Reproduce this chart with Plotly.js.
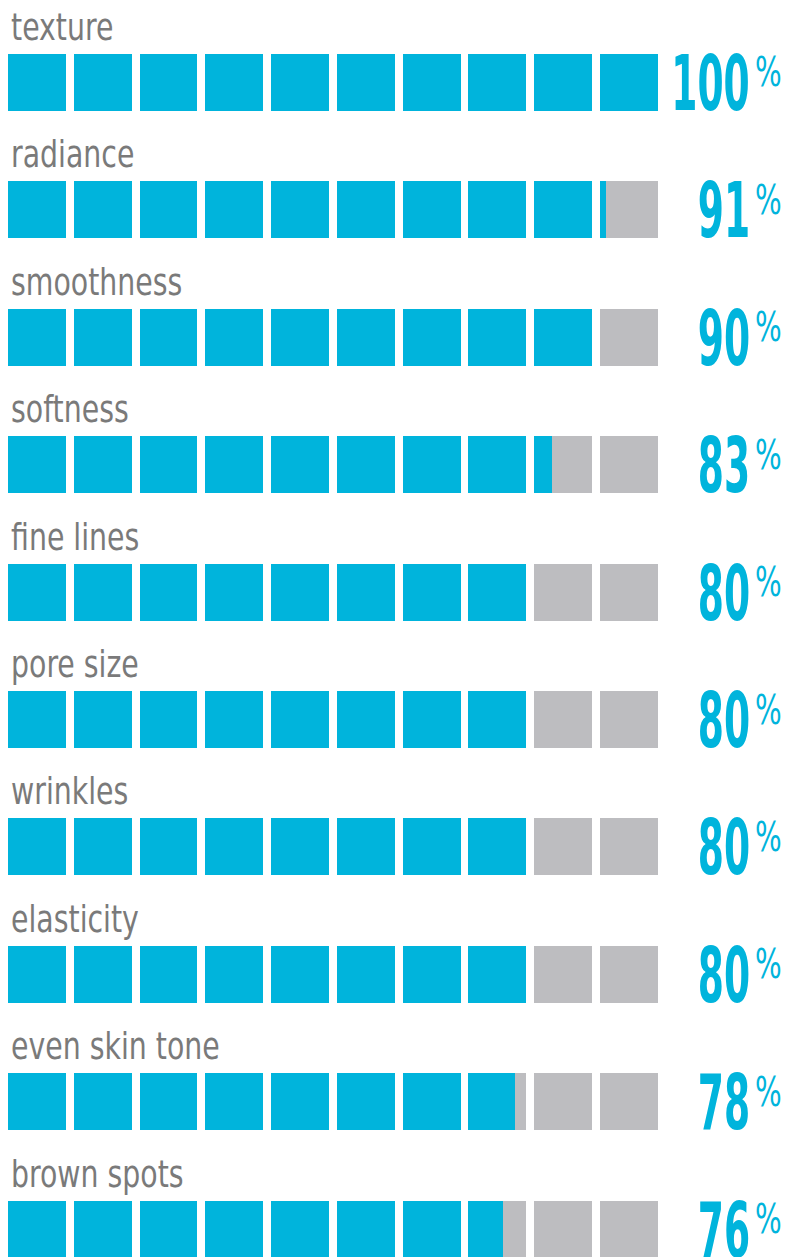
<!DOCTYPE html>
<html>
<head>
<meta charset="utf-8">
<script src="https://cdn.plot.ly/plotly-3.0.1.min.js"></script>
<style>
  html, body { margin: 0; padding: 0; background: #ffffff; }
  #chart { width: 793px; height: 1257px; }
</style>
</head>
<body>
<div id="chart"></div>
<script>
// ---- data ----
const categories = ['texture', 'radiance', 'smoothness', 'softness', 'fine lines',
                    'pore size', 'wrinkles', 'elasticity', 'even skin tone', 'brown spots'];
const values = [100, 91, 90, 83, 80, 80, 80, 80, 78, 76];
const percentLabels = values.map(v => String(v));
const squaresPerRow = 10;

// ---- styles ----
const BLUE = '#00b4dc';
const GRAY = '#bdbdc0';
const LABEL_GRAY = '#7a7a7a';
const SQ = 0.88;          // square width as fraction of one unit step
const BAR_H = 0.447;      // bar height in row units
const FONT = 'DejaVu Sans Condensed, DejaVu Sans, sans-serif';

const grayX = [], grayY = [], grayBase = [];
const blueX = [], blueY = [], blueBase = [];
categories.forEach((c, r) => {
  const filled = values[r] / 100 * squaresPerRow;
  for (let i = 0; i < squaresPerRow; i++) {
    grayX.push(SQ); grayY.push(r); grayBase.push(i);
    const frac = Math.max(0, Math.min(1, filled - i));
    if (frac > 0) { blueX.push(SQ * frac); blueY.push(r); blueBase.push(i); }
  }
});

const traces = [
  { type: 'bar', orientation: 'h', x: grayX, y: grayY, base: grayBase, width: BAR_H,
    marker: { color: GRAY, line: { width: 0 } }, hoverinfo: 'skip', showlegend: false },
  { type: 'bar', orientation: 'h', x: blueX, y: blueY, base: blueBase, width: BAR_H,
    marker: { color: BLUE, line: { width: 0 } }, hoverinfo: 'skip', showlegend: false }
];

const annotations = [];
const squeeze = [];   // [scaleX, origin] per annotation, same order
categories.forEach((c, r) => {
  annotations.push({
    xref: 'x', yref: 'y', x: 0, y: r - BAR_H / 2, xanchor: 'left', yanchor: 'bottom',
    text: c, showarrow: false, xshift: 1, yshift: 3,
    font: { family: FONT, size: 38, color: LABEL_GRAY, weight: 300 }
  });
  squeeze.push([0.83, 'left']);
  annotations.push({
    xref: 'x', yref: 'y', x: 11.31, y: r, xanchor: 'right', yanchor: 'bottom',
    text: percentLabels[r], showarrow: false, yshift: -47.5,
    font: { family: FONT, size: 76, color: BLUE, weight: 700 }
  });
  squeeze.push([0.55, 'right']);
  annotations.push({
    xref: 'x', yref: 'y', x: 11.33, y: r, xanchor: 'left', yanchor: 'top',
    text: '%', showarrow: false, yshift: 35,
    font: { family: FONT, size: 40, color: BLUE }
  });
  squeeze.push([0.78, 'left']);
});

const layout = {
  width: 793, height: 1257,
  margin: { l: 8, r: 0, t: 0, b: 0, pad: 0 },
  paper_bgcolor: '#ffffff', plot_bgcolor: '#ffffff',
  barmode: 'overlay', bargap: 0,
  xaxis: { range: [0, 11.934], visible: false, fixedrange: true },
  yaxis: { range: [9.218, -0.6467], visible: false, fixedrange: true },
  annotations: annotations,
  showlegend: false
};

function condense(gd) {
  gd.querySelectorAll('g.annotation').forEach(g => {
    const idx = +g.getAttribute('data-index');
    const t = g.querySelector('text.annotation-text');
    if (!t || !squeeze[idx]) return;
    t.style.transformBox = 'fill-box';
    t.style.transformOrigin = squeeze[idx][1] + ' bottom';
    t.style.transform = 'scaleX(' + squeeze[idx][0] + ')';
  });
}

const gd = document.getElementById('chart');
Plotly.newPlot(gd, traces, layout, { displayModeBar: false }).then(() => {
  condense(gd);
  gd.on('plotly_afterplot', () => condense(gd));
});
</script>
</body>
</html>
